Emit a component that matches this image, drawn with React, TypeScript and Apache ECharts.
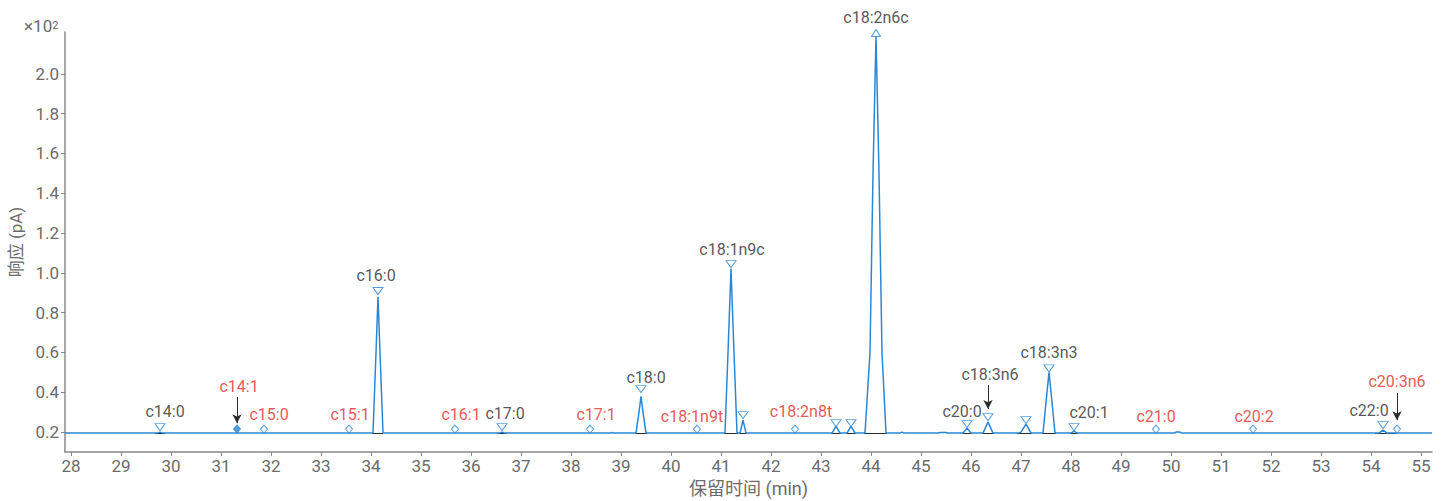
import React, { useEffect, useRef } from "react";
import * as echarts from "echarts";

// Chromatogram trace: [retention time (min), response (×10² pA)]
const trace: [number, number][] = [
  [27.88, 0.195],
  [29.72, 0.195], [29.78, 0.2], [29.84, 0.195],
  [34.04, 0.195], [34.1, 0.6], [34.14, 0.88], [34.18, 0.6], [34.24, 0.195],
  [36.56, 0.195], [36.62, 0.2], [36.68, 0.195],
  [38.8, 0.195], [38.83, 0.198], [38.86, 0.195],
  [39.3, 0.195], [39.36, 0.3], [39.4, 0.38], [39.44, 0.3], [39.5, 0.195],
  [41.08, 0.195], [41.14, 0.6], [41.2, 1.02], [41.26, 0.6], [41.32, 0.195],
  [41.38, 0.195], [41.44, 0.26], [41.5, 0.195],
  [43.22, 0.195], [43.3, 0.23], [43.38, 0.195],
  [43.52, 0.195], [43.6, 0.23], [43.68, 0.195],
  [43.88, 0.195], [43.98, 0.6], [44.04, 1.5], [44.1, 2.19], [44.16, 1.5], [44.22, 0.6], [44.3, 0.195],
  [44.58, 0.195], [44.62, 0.2], [44.66, 0.195],
  [45.34, 0.195], [45.38, 0.198], [45.5, 0.198], [45.54, 0.195],
  [45.84, 0.195], [45.92, 0.22], [46.0, 0.195],
  [46.24, 0.195], [46.34, 0.25], [46.44, 0.195],
  [46.94, 0.195], [47.0, 0.2], [47.1, 0.24], [47.2, 0.195],
  [47.44, 0.195], [47.5, 0.35], [47.56, 0.5], [47.62, 0.35], [47.68, 0.195],
  [48.0, 0.195], [48.06, 0.205], [48.12, 0.195],
  [50.08, 0.195], [50.1, 0.2], [50.18, 0.2], [50.2, 0.195],
  [54.16, 0.195], [54.24, 0.21], [54.32, 0.195],
  [55.22, 0.195],
];

// Integration baselines under detected peaks: [start, end] in min
const integrationBaselines: [number, number][] = [
  [29.68, 29.88], [34.02, 34.24], [36.52, 36.72], [39.28, 39.52],
  [41.06, 41.34], [41.36, 41.52], [43.2, 43.4], [43.5, 43.7],
  [43.86, 44.32], [45.82, 46.02], [46.22, 46.46], [46.92, 47.22],
  [47.42, 47.7], [47.98, 48.14], [54.08, 54.5],
];
const baselineLevel = 0.193;

// Identified (found) peaks: name, time, marker level
const foundNames = ["c14:0", "c16:0", "c17:0", "c18:0", "c18:1n9c", "", "", "", "c20:0", "c18:3n6", "", "c18:3n3", "c20:1", "c22:0"];
const foundTimes = [29.78, 34.14, 36.62, 39.4, 41.2, 41.44, 43.3, 43.6, 45.92, 46.34, 47.1, 47.56, 48.06, 54.24];
const foundLevels = [0.225, 0.909, 0.225, 0.416, 1.044, 0.285, 0.245, 0.245, 0.24, 0.275, 0.26, 0.52, 0.225, 0.235];

// Off-scale apex
const apexName = "c18:2n6c";
const apexTime = 44.1;
const apexLevel = 2.205;

// Expected but not found (diamonds)
const missingNames = ["c14:1", "c15:0", "c15:1", "c16:1", "c17:1", "c18:1n9t", "c18:2n8t", "c21:0", "c20:2", "c20:3n6"];
const missingTimes = [31.32, 31.86, 33.56, 35.68, 38.38, 40.52, 42.48, 49.7, 51.64, 54.52];
const missingLevels = [0.215, 0.215, 0.215, 0.215, 0.215, 0.215, 0.215, 0.215, 0.215, 0.215];
const filledMissing = ["c14:1"];

// Arrows from label to marker: [time, from level, to level]
const arrows: [number, number, number][] = [
  [31.32, 0.376, 0.245],
  [46.34, 0.436, 0.316],
  [54.52, 0.396, 0.26],
];

const xTicks = [28, 29, 30, 31, 32, 33, 34, 35, 36, 37, 38, 39, 40, 41, 42, 43, 44, 45, 46, 47, 48, 49, 50, 51, 52, 53, 54, 55];
const yTicks = [0.2, 0.4, 0.6, 0.8, 1.0, 1.2, 1.4, 1.6, 1.8, 2.0];

// Label offsets (pixels) — styling only
const labelOffsets: Record<string, [number, number]> = {
  "c14:0": [5, -16], "c14:1": [2, -43], "c15:0": [5, -15], "c15:1": [1, -15],
  "c16:0": [-2, -15], "c16:1": [6, -15], "c17:0": [3, -14], "c17:1": [6, -15],
  "c18:0": [5, -12], "c18:1n9t": [-5, -13], "c18:1n9c": [1, -15], "c18:2n8t": [6, -18],
  "c18:2n6c": [0, -15], "c20:0": [-5, -13], "c18:3n6": [2, -43], "c18:3n3": [0, -16],
  "c20:1": [15, -15], "c21:0": [0, -13], "c20:2": [1, -13], "c22:0": [-14, -15],
  "c20:3n6": [0, -48],
};

const BLUE = "#2a87d6";
const RED = "#e42b27";
const DARK = "#2b2b2b";
const GRAY = "#6b6b6b";
const FONT = "Roboto, 'Noto Sans CJK SC', sans-serif";

function labelFor(name: string, color: string) {
  const off = labelOffsets[name] || [0, -15];
  return {
    show: !!name,
    formatter: name,
    position: "inside",
    offset: off,
    color,
    fontSize: 16,
    fontFamily: FONT,
  };
}

export default function App() {
  const ref = useRef<HTMLDivElement>(null);
  useEffect(() => {
    if (!ref.current) return;
    const chart = echarts.init(ref.current, undefined, { renderer: "svg" });

    const baselineData: (number | null)[][] = [];
    integrationBaselines.forEach(([a, b]) => {
      baselineData.push([a, baselineLevel], [b, baselineLevel], [b, null as any]);
    });

    const foundData = foundTimes.map((t, i) => ({
      value: [t, foundLevels[i]],
      label: labelFor(foundNames[i], DARK),
    }));
    const missingData = missingTimes.map((t, i) => {
      const filled = filledMissing.includes(missingNames[i]);
      return {
        value: [t, missingLevels[i]],
        itemStyle: { color: filled ? BLUE : "#fff", borderColor: BLUE, borderWidth: 1 },
        label: labelFor(missingNames[i], RED),
      };
    });

    chart.setOption({
      animation: false,
      grid: { left: 65, right: 15, top: 32, bottom: 49, outerBoundsMode: "none", containLabel: false },
      graphic: [
        {
          type: "text",
          left: 24,
          top: 17,
          style: {
            text: "{b|×10}{s|2}",
            fill: GRAY,
            fontFamily: FONT,
            rich: {
              b: { fontSize: 17, fill: GRAY, fontFamily: FONT, verticalAlign: "bottom", height: 22 },
              s: { fontSize: 11, fill: GRAY, fontFamily: FONT, verticalAlign: "top", height: 22 },
            },
          },
        },
      ],
      xAxis: {
        type: "value",
        min: 27.88,
        max: 55.22,
        name: "保留时间 (min)",
        nameLocation: "middle",
        nameGap: 27,
        nameTextStyle: { fontSize: 18, color: GRAY, fontFamily: FONT },
        axisLine: { lineStyle: { color: "#888", width: 1.5 } },
        axisTick: { show: true, length: 4, lineStyle: { color: "#888" }, customValues: xTicks },
        axisLabel: { fontSize: 17, color: GRAY, fontFamily: FONT, margin: 5, customValues: xTicks, formatter: (v: number) => String(Math.round(v)) },
        splitLine: { show: false },
      },
      yAxis: {
        type: "value",
        min: 0.1,
        max: 2.21,
        name: "响应 (pA)",
        nameLocation: "middle",
        nameGap: 41,
        nameTextStyle: { fontSize: 17, color: GRAY, fontFamily: FONT },
        axisLine: { show: true, lineStyle: { color: "#888", width: 1.5 } },
        axisTick: { show: true, length: 4, lineStyle: { color: "#888" }, customValues: yTicks },
        axisLabel: { fontSize: 17, color: GRAY, fontFamily: FONT, margin: 6, customValues: yTicks, formatter: (v: number) => v.toFixed(1) },
        splitLine: { show: false },
      },
      series: [
        {
          type: "line",
          data: baselineData,
          symbol: "none",
          connectNulls: false,
          lineStyle: { color: DARK, width: 1.2 },
          silent: true,
          z: 1,
        },
        {
          type: "line",
          data: trace,
          symbol: "none",
          lineStyle: { color: BLUE, width: 1.5 },
          silent: true,
          z: 2,
          markLine: {
            silent: true,
            symbol: ["none", "arrow"],
            symbolSize: [7, 9],
            label: { show: false },
            lineStyle: { color: DARK, width: 1, type: "solid" },
            data: arrows.map(([t, a, b]) => [{ coord: [t, a] }, { coord: [t, b] }]),
          },
        },
        {
          type: "scatter",
          data: foundData,
          symbol: "triangle",
          symbolRotate: 180,
          symbolSize: [10, 7],
          itemStyle: { color: "#fff", borderColor: BLUE, borderWidth: 1 },
          z: 3,
        },
        {
          type: "scatter",
          data: [{ value: [apexTime, apexLevel], label: labelFor(apexName, DARK) }],
          symbol: "triangle",
          symbolSize: [9, 7],
          itemStyle: { color: "#fff", borderColor: BLUE, borderWidth: 1 },
          z: 3,
        },
        {
          type: "scatter",
          data: missingData,
          symbol: "diamond",
          symbolSize: [7, 8],
          z: 3,
        },
      ],
    });
    return () => chart.dispose();
  }, []);
  return <div ref={ref} style={{ position: "absolute", left: 0, top: 0, width: 1447, height: 501 }} />;
}
